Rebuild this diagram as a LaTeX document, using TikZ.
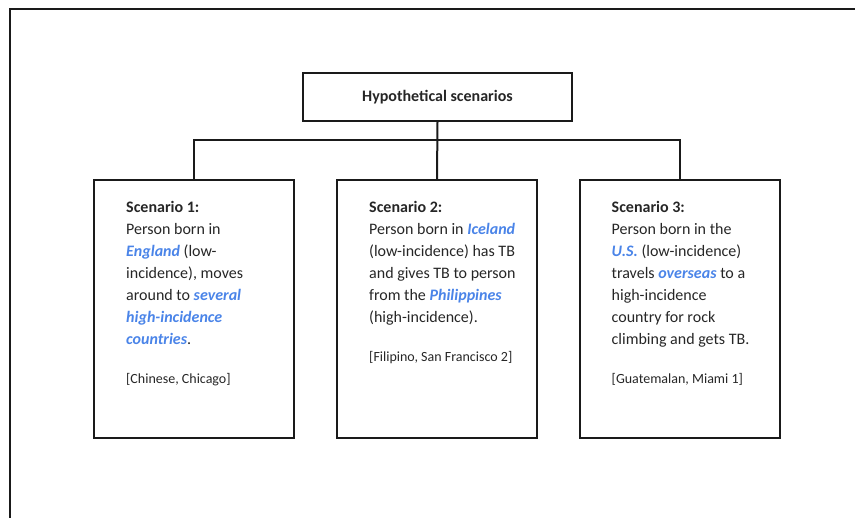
\documentclass[tikz,border=0pt]{standalone}
\usepackage{fontspec}
\setmainfont{Carlito}
\definecolor{frameink}{HTML}{1A1A1A}
\definecolor{bodyink}{HTML}{262626}
\definecolor{placeblue}{HTML}{4A84E8}
\newcommand{\place}[1]{\textcolor{placeblue}{\textbf{\textit{#1}}}}

\begin{document}
\begin{tikzpicture}[
  x=1pt,
  y=-1pt,
  every node/.style={bodyink},
  outerframe/.style={frameink, line width=2pt},
  headbox/.style={draw=frameink, line width=2pt, minimum width=269pt,
                  minimum height=48pt, font=\fontsize{16}{22}\selectfont\bfseries},
  scenariobox/.style={draw=frameink, line width=2pt, minimum width=200pt,
                      minimum height=258pt},
  scenariotext/.style={anchor=north west, align=left, inner sep=0pt,
                       font=\fontsize{16}{22}\selectfont},
  sourcetext/.style={anchor=base west, inner sep=0pt,
                     font=\fontsize{14}{17}\selectfont},
  link/.style={frameink, line width=2pt}
]
  \useasboundingbox (0,0) rectangle (855,518);

  % ---- page frame, only top and left edges show ----------------------
  \draw[outerframe] (10,518) -- (10,9) -- (855,9);

  % ---- heading and the three scenario boxes --------------------------
  \node[headbox] (head) at (437.5,97) {Hypothetical scenarios};

  \node[scenariobox] (s1) at (194,309) {};
  \node[scenariobox] (s2) at (437,309) {};
  \node[scenariobox] (s3) at (679.5,309) {};

  \node[scenariotext] (t1) at ([xshift=33pt,yshift=-22pt]s1.north west)
    {\textbf{Scenario 1:}\\
     Person born in\\
     \place{England} (low-\\
     incidence), moves\\
     around to \place{several}\\
     \place{high-incidence}\\
     \place{countries}.};
  \node[sourcetext] (r1) at ([xshift=33pt,yshift=-205pt]s1.north west)
    {[Chinese, Chicago]};

  \node[scenariotext] (t2) at ([xshift=33pt,yshift=-22pt]s2.north west)
    {\textbf{Scenario 2:}\\
     Person born in \place{Iceland}\\
     (low-incidence) has TB\\
     and gives TB to person\\
     from the \place{Philippines}\\
     (high-incidence).};
  \node[sourcetext] (r2) at ([xshift=33pt,yshift=-183pt]s2.north west)
    {[Filipino, San Francisco 2]};

  \node[scenariotext] (t3) at ([xshift=33pt,yshift=-22pt]s3.north west)
    {\textbf{Scenario 3:}\\
     Person born in the\\
     \place{U.S.} (low-incidence)\\
     travels \place{overseas} to a\\
     high-incidence\\
     country for rock\\
     climbing and gets TB.};
  \node[sourcetext] (r3) at ([xshift=33pt,yshift=-205pt]s3.north west)
    {[Guatemalan, Miami 1]};

  % ---- connectors ----------------------------------------------------
  \coordinate (bar) at (437,140);
  \draw[link] (head.south) -- (s2.north);
  \draw[link] (s1.north) -- (s1.north |- bar) -- (s3.north |- bar)
    -- (s3.north);
\end{tikzpicture}
\end{document}
